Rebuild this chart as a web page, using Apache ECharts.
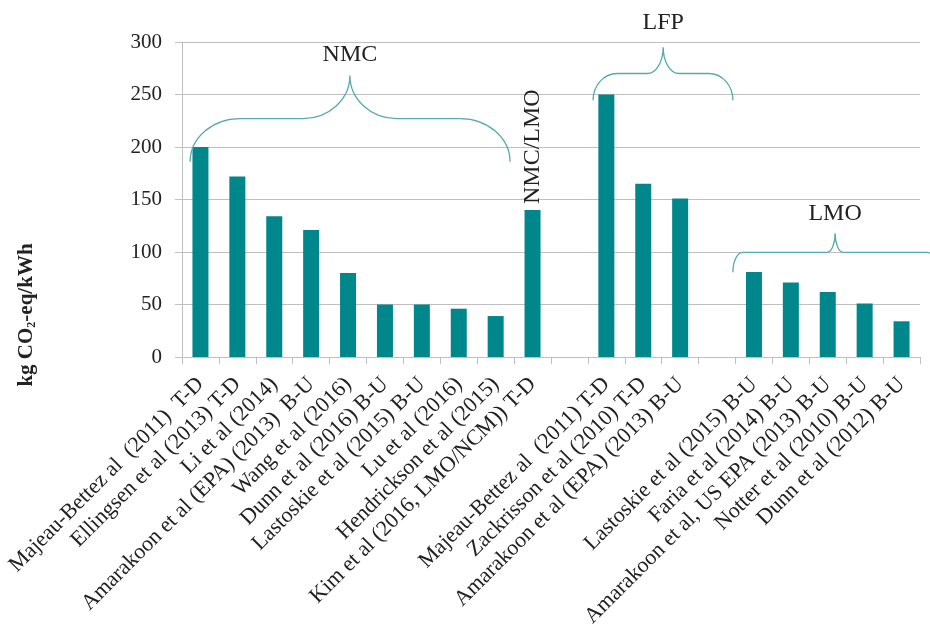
<!DOCTYPE html>
<html>
<head>
<meta charset="utf-8">
<script src="https://cdn.jsdelivr.net/npm/echarts@6/dist/echarts.min.js"></script>
<style>html,body{margin:0;padding:0;background:#fff}#c{width:930px;height:630px}</style>
</head>
<body>
<div id="c"></div>
<script>
// ---- data ----
const categories = [
  'Majeau-Bettez al  (2011)  T-D',
  'Ellingsen et al (2013) T-D',
  'Li et al (2014)',
  'Amarakoon et al (EPA) (2013)  B-U',
  'Wang et al (2016)',
  'Dunn et al (2016) B-U',
  'Lastoskie et al (2015) B-U',
  'Lu et al (2016)',
  'Hendrickson et al (2015)',
  'Kim et al (2016, LMO/NCM)) T-D',
  ' ',
  'Majeau-Bettez al  (2011) T-D',
  'Zackrisson et al (2010) T-D',
  'Amarakoon et al (EPA) (2013) B-U',
  '  ',
  'Lastoskie et al (2015) B-U',
  'Faria et al (2014) B-U',
  'Amarakoon et al, US EPA (2013) B-U',
  'Notter et al (2010) B-U',
  'Dunn et al (2012) B-U'
];
const values = [200, 172, 134, 121, 80, 50, 50, 46, 39, 140, null, 250, 165, 151, null, 81, 71, 62, 51, 34];
const barTopLabels = ['', '', '', '', '', '', '', '', '', 'NMC/LMO', '', '', '', '', '', '', '', '', '', ''];
const yTicks = [0, 50, 100, 150, 200, 250, 300];
const groupNames = ['NMC', 'LFP', 'LMO'];

// ---- brace annotations (category units / value units) ----
const braces = [
  { from: -0.28, tip: 4.05, to: 8.39, end: 186, flat: 227, top: 268, labelAt: 288, r: 1.35, w: 1.27 },
  { from: 10.64, tip: 12.54, to: 14.43, end: 244.5, flat: 270, top: 295, labelAt: 318.5, r: 0.65, w: 0.43 },
  { from: 14.43, tip: 17.2, to: 19.97, end: 80.7, flat: 99.7, top: 117.8, labelAt: 136, r: 0.27, w: 0.22 }
];

const TEAL = '#00878c';
const BRACE = '#55aab0';
const TEXT = '#222';
const GRID = '#bfbfbf';
const SERIF = '"Liberation Serif", "DejaVu Serif", serif';

const chart = echarts.init(document.getElementById('c'));

function braceItem(params, api) {
  const b = braces[params.dataIndex];
  const x0c = api.coord([0, 0])[0];
  const cw = api.size([1, 0])[0];
  const X = u => x0c + u * cw;
  const Y = v => api.coord([0, v])[1];
  const k = 0.552;
  const xa = X(b.from), xt = X(b.tip), xb = X(b.to);
  const yE = Y(b.end), yF = Y(b.flat), yT = Y(b.top);
  const r = b.r * cw, w = b.w * cw;
  const h = yE - yF, hT = yF - yT;
  const d = [
    'M', xa, yE,
    'C', xa, yE - k * h, xa + r - k * r, yF, xa + r, yF,
    'L', xt - w, yF,
    'C', xt - w + k * w, yF, xt, yT + k * hT, xt, yT,
    'C', xt, yT + k * hT, xt + w - k * w, yF, xt + w, yF,
    'L', xb - r, yF,
    'C', xb - r + k * r, yF, xb, yE - k * h, xb, yE
  ].join(' ');
  return {
    type: 'group',
    children: [
      { type: 'path', shape: { pathData: d }, style: { fill: null, stroke: BRACE, lineWidth: 1.3 } },
      { type: 'text', x: xt, y: Y(b.labelAt),
        style: { text: groupNames[params.dataIndex], fill: TEXT, font: '24px ' + SERIF, align: 'center', verticalAlign: 'middle' } }
    ]
  };
}

chart.setOption({
  animation: false,
  backgroundColor: '#fff',
  grid: { left: 182, right: 10, top: 42, bottom: 273, outerBoundsMode: 'none', containLabel: false },
  xAxis: {
    type: 'category',
    data: categories,
    axisLine: { show: true, lineStyle: { color: GRID, width: 1 } },
    axisTick: { show: true, length: 7, alignWithLabel: false, lineStyle: { color: GRID } },
    axisLabel: { interval: 0, rotate: 45, margin: 24, color: TEXT, fontFamily: SERIF, fontSize: 22 }
  },
  yAxis: {
    type: 'value',
    min: yTicks[0], max: yTicks[yTicks.length - 1], interval: 50,
    axisLine: { show: true, lineStyle: { color: GRID } },
    axisTick: { show: true, length: 7, lineStyle: { color: GRID } },
    splitLine: { lineStyle: { color: GRID } },
    axisLabel: { margin: 20, color: TEXT, fontFamily: SERIF, fontSize: 21 }
  },
  graphic: [{
    type: 'text', x: 27, y: 315, rotation: Math.PI / 2,
    style: {
      text: '{a|kg CO}{s|2}{a|-eq/kWh}', align: 'center', verticalAlign: 'middle',
      rich: {
        a: { font: 'bold 21px ' + SERIF, fill: TEXT },
        s: { font: 'bold 12px ' + SERIF, fill: TEXT, verticalAlign: 'bottom', padding: [8, 0, 0, 0] }
      }
    }
  }],
  series: [
    {
      type: 'bar',
      barWidth: 16,
      itemStyle: { color: TEAL },
      data: values.map((v, i) => ({
        value: v,
        label: barTopLabels[i] ? {
          show: true, position: 'top', rotate: 90, align: 'left', verticalAlign: 'middle', distance: 6,
          formatter: barTopLabels[i], color: TEXT, fontFamily: SERIF, fontSize: 24
        } : { show: false }
      }))
    },
    {
      type: 'custom',
      renderItem: braceItem,
      data: braces.map((b, i) => [i]),
      z: 5,
      silent: true
    }
  ]
});
</script>
</body>
</html>
